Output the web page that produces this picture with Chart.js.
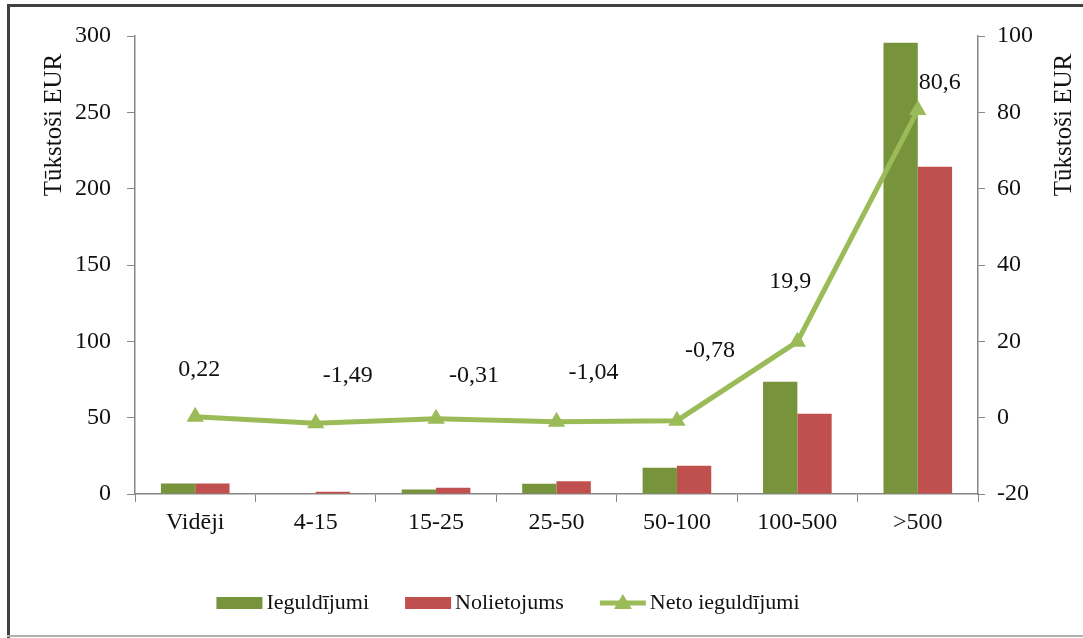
<!DOCTYPE html>
<html>
<head>
<meta charset="utf-8">
<script src="https://cdn.jsdelivr.net/npm/chart.js@4/dist/chart.umd.min.js"></script>
<style>
  html, body { margin: 0; padding: 0; background: #fff; }
  #wrap { width: 1083px; height: 638px; position: relative; }
</style>
</head>
<body>
<div id="wrap"><canvas id="grafica" width="1083" height="638"></canvas></div>
<script>
const kategorijas = ["Vidēji", "4-15", "15-25", "25-50", "50-100", "100-500", ">500"];
const ieguldijumi = [6.8, 0.4, 3.0, 6.7, 17.2, 73.6, 295.5];
const nolietojums = [6.8, 1.5, 4.1, 8.3, 18.5, 52.6, 214.4];
const neto = [0.22, -1.49, -0.31, -1.04, -0.78, 19.9, 80.6];
const netoTeksts = ["0,22", "-1,49", "-0,31", "-1,04", "-0,78", "19,9", "80,6"];

const SERIF = "'Liberation Serif', 'Times New Roman', serif";
const ZALS = "#77933C";
const SARKANS = "#C0504D";
const GAISI_ZALS = "#9BBB59";
const ASS = "#868686";

// rāmis ap visu attēlu
const ramis = {
    id: "ramis",
    beforeDraw(chart) {
        const c = chart.ctx;
        c.save();
        c.fillStyle = "#fff";
        c.fillRect(0, 0, chart.width, chart.height);
        c.fillStyle = "#404040";
        c.fillRect(7, 4, chart.width - 7, 3);
        c.fillRect(7, 4, 3, chart.height - 4);
        c.fillStyle = "#b0b0b0";
        c.fillRect(7, 635, chart.width - 7, 2);
        c.restore();
    }
};

// asu nosaukumi, abi lasāmi no apakšas uz augšu
const asuNosaukumi = {
    id: "asuNosaukumi",
    afterDraw(chart) {
        const c = chart.ctx;
        c.save();
        c.font = "25px " + SERIF;
        c.fillStyle = "#111";
        c.textAlign = "center";
        c.textBaseline = "middle";
        [[54, 125], [1064, 125]].forEach(([x, y]) => {
            c.save();
            c.translate(x, y);
            c.rotate(-Math.PI / 2);
            c.fillText("Tūkstoši EUR", 0, 0);
            c.restore();
        });
        c.restore();
    }
};

// vērtību uzraksti pie neto līnijas punktiem
const netoUzraksti = {
    id: "netoUzraksti",
    afterDatasetsDraw(chart, args, opts) {
        const meta = chart.getDatasetMeta(2);
        const c = chart.ctx;
        c.save();
        c.font = "24px " + SERIF;
        c.fillStyle = "#111";
        c.textAlign = "center";
        c.textBaseline = "middle";
        meta.data.forEach((p, i) => {
            const [dx, dy] = opts.nobide[i];
            c.fillText(netoTeksts[i], p.x + dx, p.y + dy);
        });
        c.restore();
    }
};

// leģenda apakšā
const legenda = {
    id: "legenda",
    afterDraw(chart) {
        const c = chart.ctx;
        const y = 603;
        const items = [
            { t: "Ieguldījumi", tips: "bar", krasa: ZALS },
            { t: "Nolietojums", tips: "bar", krasa: SARKANS },
            { t: "Neto ieguldījumi", tips: "line", krasa: GAISI_ZALS }
        ];
        c.save();
        c.font = "22px " + SERIF;
        c.textBaseline = "middle";
        c.textAlign = "left";
        const sw = 46, gap = 4, starp = 36;
        let total = 0;
        items.forEach((it, i) => {
            it.w = c.measureText(it.t).width;
            total += sw + gap + it.w + (i < items.length - 1 ? starp : 0);
        });
        let x = 508 - total / 2;
        items.forEach(it => {
            if (it.tips === "bar") {
                c.fillStyle = it.krasa;
                c.fillRect(x, y - 6, sw, 12);
            } else {
                c.strokeStyle = it.krasa;
                c.lineWidth = 5;
                c.beginPath();
                c.moveTo(x, y);
                c.lineTo(x + sw, y);
                c.stroke();
                c.fillStyle = it.krasa;
                c.beginPath();
                c.moveTo(x + sw / 2, y - 9);
                c.lineTo(x + sw / 2 + 9, y + 6);
                c.lineTo(x + sw / 2 - 9, y + 6);
                c.closePath();
                c.fill();
            }
            c.fillStyle = "#111";
            c.fillText(it.t, x + sw + gap, y);
            x += sw + gap + it.w + starp;
        });
        c.restore();
    }
};

const ticksFont = { family: SERIF, size: 24 };

new Chart(document.getElementById("grafica"), {
    type: "bar",
    data: {
        labels: kategorijas,
        datasets: [
            {
                label: "Ieguldījumi",
                data: ieguldijumi,
                backgroundColor: ZALS,
                yAxisID: "y",
                order: 2,
                barPercentage: 1,
                categoryPercentage: 0.57
            },
            {
                label: "Nolietojums",
                data: nolietojums,
                backgroundColor: SARKANS,
                yAxisID: "y",
                order: 2,
                barPercentage: 1,
                categoryPercentage: 0.57
            },
            {
                type: "line",
                label: "Neto ieguldījumi",
                data: neto,
                yAxisID: "y1",
                order: 0,
                borderColor: GAISI_ZALS,
                backgroundColor: GAISI_ZALS,
                borderWidth: 5,
                tension: 0,
                pointStyle: "triangle",
                pointRadius: 10,
                pointBorderWidth: 0,
                pointBackgroundColor: GAISI_ZALS
            }
        ]
    },
    options: {
        responsive: false,
        animation: false,
        devicePixelRatio: 1,
        layout: { padding: { top: 36, left: 0, right: 0, bottom: 0 } },
        plugins: {
            legend: { display: false },
            tooltip: { enabled: false },
            netoUzraksti: {
                nobide: [[4, -47], [32, -48], [38, -43], [37, -49], [33, -70], [-7, -60], [22, -27]]
            }
        },
        scales: {
            x: {
                grid: { display: true, drawOnChartArea: false, drawTicks: true, tickLength: 8, color: ASS, offset: true },
                border: { color: ASS, width: 1.5 },
                ticks: { font: ticksFont, color: "#111", padding: 6, maxRotation: 0 },
                afterFit(s) { s.height = 144; }
            },
            y: {
                position: "left",
                min: 0,
                max: 300,
                grid: { drawOnChartArea: false, drawTicks: true, tickLength: 8, color: ASS },
                border: { color: ASS, width: 1.5 },
                ticks: { stepSize: 50, font: ticksFont, color: "#111", padding: 16 },
                afterFit(s) { s.width = 135; }
            },
            y1: {
                position: "right",
                min: -20,
                max: 100,
                grid: { drawOnChartArea: false, drawTicks: true, tickLength: 7, color: ASS },
                border: { color: ASS, width: 1.5 },
                ticks: { stepSize: 20, font: ticksFont, color: "#111", padding: 12 },
                afterFit(s) { s.width = 105; }
            }
        }
    },
    plugins: [ramis, asuNosaukumi, netoUzraksti, legenda]
});
</script>
</body>
</html>
